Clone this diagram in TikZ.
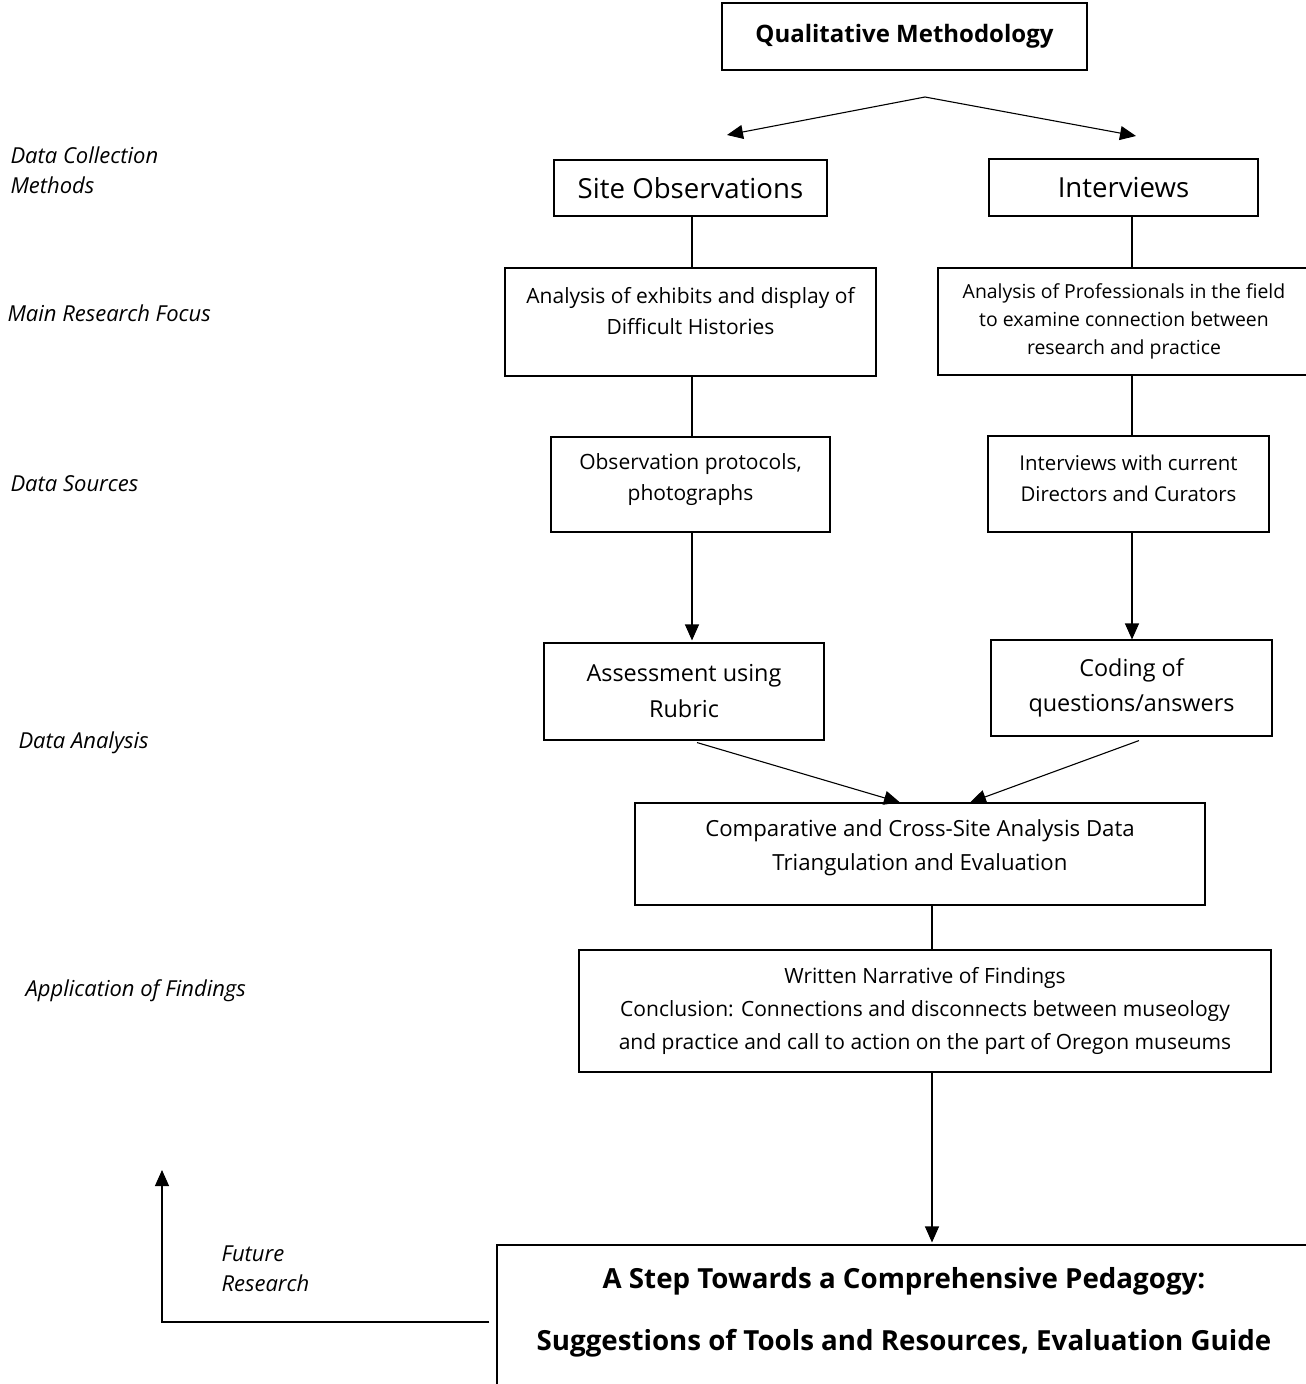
\documentclass[tikz,border=0pt]{standalone}
\usepackage{fontspec}
\setmainfont{Open Sans}
\usetikzlibrary{arrows.meta}

\newcommand\fsTitle{\fontsize{24}{28}\selectfont\bfseries}
\newcommand\fsBig{\fontsize{27.6}{30}\selectfont}
\newcommand\fsMid{\fontsize{22.2}{34}\selectfont}
\newcommand\fsSmall{\fontsize{21}{31}\selectfont}
\newcommand\fsNote{\fontsize{22}{30}\selectfont\itshape}
\newcommand\fsEnd{\fontsize{27.7}{62}\selectfont\bfseries}

\begin{document}
\begin{tikzpicture}[
  x=1pt, y=-1pt,
  box/.style 2 args={
    draw=black,
    line width=1.1pt,
    minimum width=#1,
    minimum height=#2,
    align=center,
    inner sep=0pt,
  },
  lift/.style={
    text depth=#1,
  },
  line/.style={
    line width=1.1pt,
    black,
  },
  arr/.style={
    -{Triangle[length=16pt,width=14pt]},
    line width=1.1pt,
    black,
  },
  note/.style={
    font=\fsNote,
    align=left,
    anchor=west,
  },
]
\useasboundingbox (0,0) rectangle (1306,1384);

% Nodes
\node[box={365pt}{67pt}, font=\fsTitle] (qm) at (904.5,36.5) {Qualitative Methodology};

\node[box={273pt}{56pt}, font=\fsBig] (site) at (690.5,188) {Site Observations};
\node[box={269pt}{57pt}, font=\fsBig] (intv) at (1123.5,187.5) {Interviews};

\node[box={371pt}{108pt}, lift=22pt, font=\fsSmall] (exh) at (690.5,322) {Analysis of exhibits and display of\\Difficult Histories};
\node[box={372pt}{107pt}, font=\fontsize{19.4}{28}\selectfont] (prof) at (1124,321.5) {Analysis of Professionals in the field\\to examine connection between\\research and practice};

\node[box={279pt}{95pt}, lift=14pt, font=\fsSmall] (obs) at (690.5,484.5) {Observation protocols,\\photographs};
\node[box={281pt}{96pt}, lift=12pt, font=\fontsize{20.4}{31}\selectfont] (cur) at (1128.5,484) {Interviews with current\\Directors and Curators};

\node[box={280pt}{97pt}, font=\fontsize{23.4}{36}\selectfont] (ass) at (684,691.5) {Assessment using\\Rubric};
\node[box={281pt}{96pt}, font=\fontsize{23.4}{35}\selectfont] (cod) at (1131.5,688) {Coding of\\questions/answers};

\node[box={570pt}{102pt}, lift=17pt, font=\fsMid] (comp) at (920,854) {Comparative and Cross-Site Analysis Data\\Triangulation and Evaluation};

\node[box={692pt}{122pt}, font=\fontsize{21}{33}\selectfont] (narr) at (925,1011) {Written Narrative of Findings\\Conclusion: Connections and disconnects between museology\\and practice and call to action on the part of Oregon museums};

\node[box={814pt}{154pt}, lift=26pt, font=\fsEnd] (step) at (904,1322) {A Step Towards a Comprehensive Pedagogy:\\Suggestions of Tools and Resources, Evaluation Guide};

% Row labels
\node[note] (lcoll) at (7,170) {Data Collection\\Methods};
\node[note] (lfocus) at (4,313) {Main Research Focus};
\node[note] (lsrc) at (7,484) {Data Sources};
\node[note] (lanal) at (15,743) {Data Analysis};
\node[note] (lapp) at (22,991) {Application of Findings};
\node[note] (lfut) at (218,1269) {Future\\Research};

% Helper coordinates
\coordinate (fork) at (925,97);
\coordinate (forkL) at (727,135);
\coordinate (forkR) at (1136,136);
\coordinate (lcol) at (692,0);
\coordinate (rcol) at (1132,0);
\coordinate (mcol) at (932,0);
\coordinate (fcorner) at (162,1322);
\coordinate (ftip) at (162,1170);

% Arrows
\draw[arr] (fork) -- (forkL);
\draw[arr] (fork) -- (forkR);

\draw[line] (lcol |- site.south) -- (lcol |- exh.north);
\draw[line] (rcol |- intv.south) -- (rcol |- prof.north);
\draw[line] (lcol |- exh.south) -- (lcol |- obs.north);
\draw[line] (rcol |- prof.south) -- (rcol |- cur.north);

\draw[arr, shorten >=2pt] (lcol |- obs.south) -- (lcol |- ass.north);
\draw[arr] (rcol |- cur.south) -- (rcol |- cod.north);

\draw[arr] ([xshift=13pt, yshift=-2pt]ass.south) -- ([xshift=-20pt]comp.north);
\draw[arr] ([xshift=7.5pt, yshift=-4pt]cod.south) -- ([xshift=50pt]comp.north);

\draw[line] (mcol |- comp.south) -- (mcol |- narr.north);
\draw[arr, shorten >=2pt] (mcol |- narr.south) -- (mcol |- step.north);

\draw[arr, shorten <=7pt] (step.west) -- (fcorner) -- (ftip);

\end{tikzpicture}
\end{document}
